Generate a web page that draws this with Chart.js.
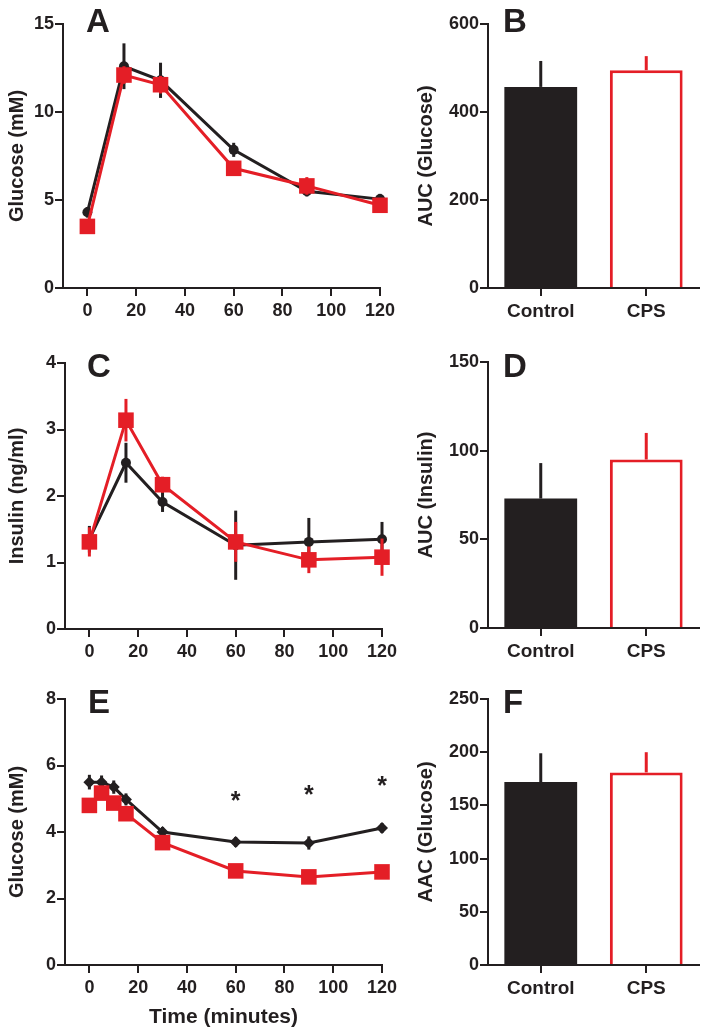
<!DOCTYPE html>
<html>
<head>
<meta charset="utf-8">
<script src="https://cdn.jsdelivr.net/npm/chart.js@4.4.0/dist/chart.umd.min.js"></script>
<style>
html, body { margin: 0; padding: 0; background: #fff; }
#fig { position: relative; width: 707px; height: 1034px; overflow: hidden; }
#fig canvas { position: absolute; }
</style>
</head>
<body>
<div id="fig">
  <canvas id="cA" width="405" height="335" style="left:0;top:0"></canvas>
  <canvas id="cB" width="307" height="335" style="left:400px;top:0"></canvas>
  <canvas id="cC" width="405" height="335" style="left:0;top:330px"></canvas>
  <canvas id="cD" width="307" height="335" style="left:400px;top:330px"></canvas>
  <canvas id="cE" width="405" height="374" style="left:0;top:660px"></canvas>
  <canvas id="cF" width="307" height="374" style="left:400px;top:660px"></canvas>
</div>
<script>
'use strict'

// ---- data ----
const ogttTimes = [0, 15, 30, 60, 90, 120]
const glucoseControl = [4.3, 12.6, 11.8, 7.85, 5.5, 5.05]
const glucoseControlSem = [0.3, 1.3, 1.0, 0.4, 0.3, 0.3]
const glucoseCps = [3.5, 12.1, 11.55, 6.8, 5.8, 4.7]
const glucoseCpsSem = [0.2, 0.5, 0.5, 0.2, 0.5, 0.2]

const insulinControl = [1.35, 2.5, 1.91, 1.26, 1.31, 1.35]
const insulinControlSem = [0.2, 0.3, 0.15, 0.52, 0.36, 0.26]
const insulinCps = [1.31, 3.14, 2.17, 1.31, 1.04, 1.08]
const insulinCpsSem = [0.22, 0.32, 0.12, 0.3, 0.2, 0.28]

const ittTimes = [0, 5, 10, 15, 30, 60, 90, 120]
const ittControl = [5.5, 5.5, 5.35, 4.98, 4.0, 3.7, 3.67, 4.12]
const ittControlSem = [0.22, 0.2, 0.2, 0.18, 0.15, 0.15, 0.2, 0.15]
const ittCps = [4.8, 5.17, 4.87, 4.55, 3.68, 2.83, 2.65, 2.8]
const ittCpsSem = [0.1, 0.2, 0.15, 0.15, 0.1, 0.1, 0.15, 0.1]
const starTimes = [60, 90, 120]
const starLevels = [5.1, 5.3, 5.55]

const groups = ['Control', 'CPS']
const aucGlucose = [457, 495]
const aucGlucoseSem = [59, 32]
const aucInsulin = [73, 95]
const aucInsulinSem = [20, 15]
const aacGlucose = [172, 181]
const aacGlucoseSem = [27, 19]

const timeTicks = [0, 20, 40, 60, 80, 100, 120]
const glucoseTicks = [0, 5, 10, 15]
const insulinTicks = [0, 1, 2, 3, 4]
const ittTicks = [0, 2, 4, 6, 8]
const aucGlucoseTicks = [0, 200, 400, 600]
const aucInsulinTicks = [0, 50, 100, 150]
const aacGlucoseTicks = [0, 50, 100, 150, 200, 250]

// ---- styling ----
const ink = '#231f20'
const red = '#e41e26'
const family = '"Liberation Sans", Arial, sans-serif'

Chart.defaults.font.family = family
Chart.defaults.color = ink

// vertical SEM lines, drawn just before each dataset so markers sit on top
const errorBars = {
    id: 'errorBars',
    beforeDatasetDraw: function (chart, args) {
        const ds = chart.data.datasets[args.index]
        if (!ds.sem) return
        const yScale = chart.scales.y
        const ctx = chart.ctx
        ctx.save()
        ctx.lineWidth = 3
        args.meta.data.forEach((el, i) => {
            const raw = ds.data[i]
            const v = typeof raw === 'object' ? raw.y : raw
            const lo = ds.semUpOnly ? v : v - ds.sem[i]
            ctx.strokeStyle = Array.isArray(ds.semColor) ? ds.semColor[i] : ds.semColor
            ctx.beginPath()
            ctx.moveTo(el.x, yScale.getPixelForValue(lo))
            ctx.lineTo(el.x, yScale.getPixelForValue(v + ds.sem[i]))
            ctx.stroke()
        })
        ctx.restore()
    }
}

const panelLetter = {
    id: 'panelLetter',
    afterDraw: function (chart, args, opts) {
        if (!opts.text) return
        const ctx = chart.ctx
        ctx.save()
        ctx.font = 'bold 33px ' + family
        ctx.fillStyle = ink
        ctx.textBaseline = 'alphabetic'
        ctx.fillText(opts.text, opts.x, opts.y)
        ctx.restore()
    }
}

const stars = {
    id: 'stars',
    afterDatasetsDraw: function (chart, args, opts) {
        if (!opts.times) return
        const ctx = chart.ctx
        ctx.save()
        ctx.font = 'bold 25px ' + family
        ctx.fillStyle = ink
        ctx.textAlign = 'center'
        ctx.textBaseline = 'alphabetic'
        opts.times.forEach((t, i) => {
            const x = chart.scales.x.getPixelForValue(t)
            const y = chart.scales.y.getPixelForValue(opts.levels[i])
            ctx.fillText('*', x, y + 14)
        })
        ctx.restore()
    }
}

Chart.register(errorBars, panelLetter, stars)

const tickFont = { size: 18, weight: 'bold' }
const titleFont = { size: 20, weight: 'bold' }

function axisGrid () {
    return { drawOnChartArea: false, drawTicks: true, tickLength: 8, color: ink, lineWidth: 2 }
}

function yScale (ticks, title, width, titlePad) {
    return {
        min: ticks[0],
        max: ticks[ticks.length - 1],
        afterBuildTicks: (s) => { s.ticks = ticks.map((v) => ({ value: v })) },
        afterFit: (s) => { s.width = width; s.paddingTop = 0; s.paddingBottom = 0 },
        grid: axisGrid(),
        border: { display: true, color: ink, width: 2 },
        ticks: { font: tickFont, color: ink, padding: 1 },
        title: { display: true, text: title, font: titleFont, color: ink, padding: { top: titlePad, bottom: 0 } }
    }
}

function xTimeScale (height, title) {
    return {
        type: 'linear',
        min: -10,
        max: 120,
        afterBuildTicks: (s) => { s.ticks = timeTicks.map((v) => ({ value: v })) },
        afterFit: (s) => { s.height = height; s.paddingLeft = 0; s.paddingRight = 0 },
        grid: axisGrid(),
        border: { display: true, color: ink, width: 2 },
        ticks: { font: tickFont, color: ink, padding: 4, maxRotation: 0 },
        title: { display: !!title, text: title || '', font: { size: 21, weight: 'bold' }, color: ink, padding: { top: 0, bottom: 4 } }
    }
}

function points (times, values) {
    return times.map((t, i) => ({ x: t, y: values[i] }))
}

function lineChart (id, opt) {
    return new Chart(document.getElementById(id), {
        type: 'line',
        data: {
            datasets: [
                {
                    data: points(opt.times, opt.cps),
                    sem: opt.cpsSem,
                    semColor: red,
                    borderColor: red,
                    backgroundColor: red,
                    borderWidth: 3,
                    pointStyle: 'rect',
                    pointRadius: 11,
                    pointBorderWidth: 0,
                    tension: 0,
                    clip: false
                },
                {
                    data: points(opt.times, opt.ctrl),
                    sem: opt.ctrlSem,
                    semColor: ink,
                    borderColor: ink,
                    backgroundColor: ink,
                    borderWidth: 3,
                    pointStyle: opt.ctrlMarker,
                    pointRadius: opt.ctrlRadius,
                    pointBorderWidth: 0,
                    tension: 0,
                    clip: false
                }
            ]
        },
        options: {
            responsive: false,
            animation: false,
            layout: { padding: { top: opt.top, right: opt.right, bottom: 0, left: 0 } },
            scales: {
                x: xTimeScale(opt.xHeight, opt.xTitle),
                y: yScale(opt.yTicks, opt.yTitle, opt.yWidth, 5)
            },
            plugins: {
                legend: { display: false },
                tooltip: { enabled: false },
                panelLetter: opt.letter,
                stars: opt.stars || {}
            }
        }
    })
}

function barChart (id, opt) {
    return new Chart(document.getElementById(id), {
        type: 'bar',
        data: {
            labels: groups,
            datasets: [{
                data: opt.values,
                sem: opt.sem,
                semUpOnly: true,
                semColor: [ink, red],
                backgroundColor: [ink, '#ffffff'],
                borderColor: [ink, red],
                borderWidth: [0, 3],
                barPercentage: 0.69,
                categoryPercentage: 1
            }]
        },
        options: {
            responsive: false,
            animation: false,
            layout: { padding: { top: opt.top, right: 8, bottom: 0, left: 0 } },
            scales: {
                x: {
                    offset: true,
                    afterFit: (s) => { s.height = opt.xHeight; s.paddingLeft = 0; s.paddingRight = 0 },
                    grid: Object.assign(axisGrid(), { offset: false }),
                    border: { display: true, color: ink, width: 2 },
                    ticks: { font: { size: 19, weight: 'bold' }, color: ink, padding: 4 }
                },
                y: yScale(opt.yTicks, opt.yTitle, 88, 14)
            },
            plugins: {
                legend: { display: false },
                tooltip: { enabled: false },
                panelLetter: opt.letter
            }
        }
    })
}

lineChart('cA', {
    times: ogttTimes, ctrl: glucoseControl, ctrlSem: glucoseControlSem,
    cps: glucoseCps, cpsSem: glucoseCpsSem, ctrlMarker: 'circle', ctrlRadius: 5,
    yTicks: glucoseTicks, yTitle: 'Glucose (mM)', yWidth: 63,
    top: 24, right: 25, xHeight: 47,
    letter: { text: 'A', x: 86, y: 32 }
})

barChart('cB', {
    values: aucGlucose, sem: aucGlucoseSem, yTicks: aucGlucoseTicks,
    yTitle: 'AUC (Glucose)', top: 24, xHeight: 47,
    letter: { text: 'B', x: 103, y: 32 }
})

lineChart('cC', {
    times: ogttTimes, ctrl: insulinControl, ctrlSem: insulinControlSem,
    cps: insulinCps, cpsSem: insulinCpsSem, ctrlMarker: 'circle', ctrlRadius: 5,
    yTicks: insulinTicks, yTitle: 'Insulin (ng/ml)', yWidth: 65,
    top: 33, right: 23, xHeight: 36,
    letter: { text: 'C', x: 87, y: 47 }
})

barChart('cD', {
    values: aucInsulin, sem: aucInsulinSem, yTicks: aucInsulinTicks,
    yTitle: 'AUC (Insulin)', top: 32, xHeight: 37,
    letter: { text: 'D', x: 103, y: 47 }
})

lineChart('cE', {
    times: ittTimes, ctrl: ittControl, ctrlSem: ittControlSem,
    cps: ittCps, cpsSem: ittCpsSem, ctrlMarker: 'rectRot', ctrlRadius: 6,
    yTicks: ittTicks, yTitle: 'Glucose (mM)', yWidth: 65,
    top: 39, right: 23, xHeight: 69, xTitle: 'Time (minutes)',
    letter: { text: 'E', x: 88, y: 53 },
    stars: { times: starTimes, levels: starLevels }
})

barChart('cF', {
    values: aacGlucose, sem: aacGlucoseSem, yTicks: aacGlucoseTicks,
    yTitle: 'AAC (Glucose)', top: 39, xHeight: 69,
    letter: { text: 'F', x: 103, y: 53 }
})
</script>
</body>
</html>
